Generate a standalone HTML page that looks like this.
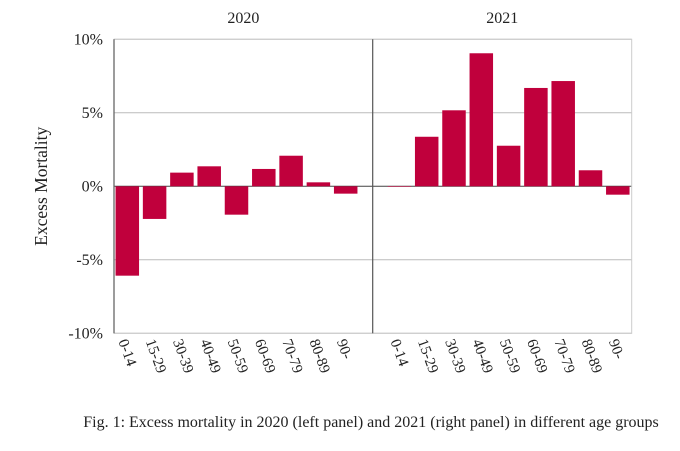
<!DOCTYPE html>
<html><head><meta charset="utf-8"><style>
body{margin:0;background:#fff;}
svg{display:block;font-family:"Liberation Serif",serif;}
</style></head><body>
<svg id="chart" width="680" height="451"></svg>
<script>
const categories=["0-14","15-29","30-39","40-49","50-59","60-69","70-79","80-89","90-"];
const values2020=[-6.08,-2.22,0.93,1.36,-1.93,1.18,2.08,0.27,-0.5];
const values2021=[0.02,3.37,5.17,9.05,2.76,6.69,7.16,1.09,-0.57];
const yTicks=[10,5,0,-5,-10];
const yTickLabels=["10%","5%","0%","-5%","-10%"];
const panelTitles=["2020","2021"];

const NS="http://www.w3.org/2000/svg";
const svg=document.getElementById('chart');
function mk(t,a,p){const e=document.createElementNS(NS,t);for(const k in a)e.setAttribute(k,a[k]);(p||svg).appendChild(e);return e;}
const yZero=186.3,yScale=14.7;
function y(v){return yZero-v*yScale;}
const yTop=y(10),yBot=y(-10);
const panels=[{x0:114,x1:372.7,first:127.3,vals:values2020},{x0:372.7,x1:631.7,first:399.4,vals:values2021}];
const step=27.3,bw=23.5;

panels.forEach((p,pi)=>{
  yTicks.forEach(t=>{
    const l=mk('line',{x1:p.x0,x2:p.x1,y1:y(t),y2:y(t),stroke:t===0?'#444':'#bbb','stroke-width':1});
    
    
  });
});
const fr=mk('rect',{x:114,y:yTop,width:631.7-114,height:yBot-yTop,fill:'none',stroke:'#ccc','stroke-width':1});


const la=mk('line',{x1:114,x2:114,y1:yTop,y2:yBot,stroke:'#666','stroke-width':1.3});


const sep=mk('line',{x1:372.7,x2:372.7,y1:yTop,y2:yBot,stroke:'#555','stroke-width':1.2});



panels.forEach((p,pi)=>{
  p.vals.forEach((v,i)=>{
    const cx=p.first+i*step;
    const r=mk('rect',{x:cx-bw/2,y:Math.min(y(v),yZero),width:bw,height:Math.max(Math.abs(y(v)-yZero),0.6),fill:'#c0003c'});
    
    
    const t=mk('text',{x:0,y:0,transform:`translate(${cx-9},${yBot+8}) rotate(70)`,'font-size':15,fill:'#222'});
    t.textContent=categories[i];
    
    
  });
  const tt=mk('text',{x:(p.x0+p.x1)/2,y:23,'text-anchor':'middle','font-size':16,fill:'#222'});
  tt.textContent=panelTitles[pi];
  
  
});
yTicks.forEach((t,i)=>{
  const e=mk('text',{x:103,y:y(t)+5,'text-anchor':'end','font-size':16,fill:'#222'});
  e.textContent=yTickLabels[i];
  
  
});
const yt=mk('text',{x:0,y:0,transform:`translate(47,${yZero}) rotate(-90)`,'text-anchor':'middle','font-size':17.5,fill:'#222'});
yt.textContent='Excess Mortality';


const cap=mk('text',{x:371,y:427,'text-anchor':'middle','font-size':16,fill:'#222'});
cap.textContent='Fig. 1: Excess mortality in 2020 (left panel) and 2021 (right panel) in different age groups';


</script>
</body></html>
